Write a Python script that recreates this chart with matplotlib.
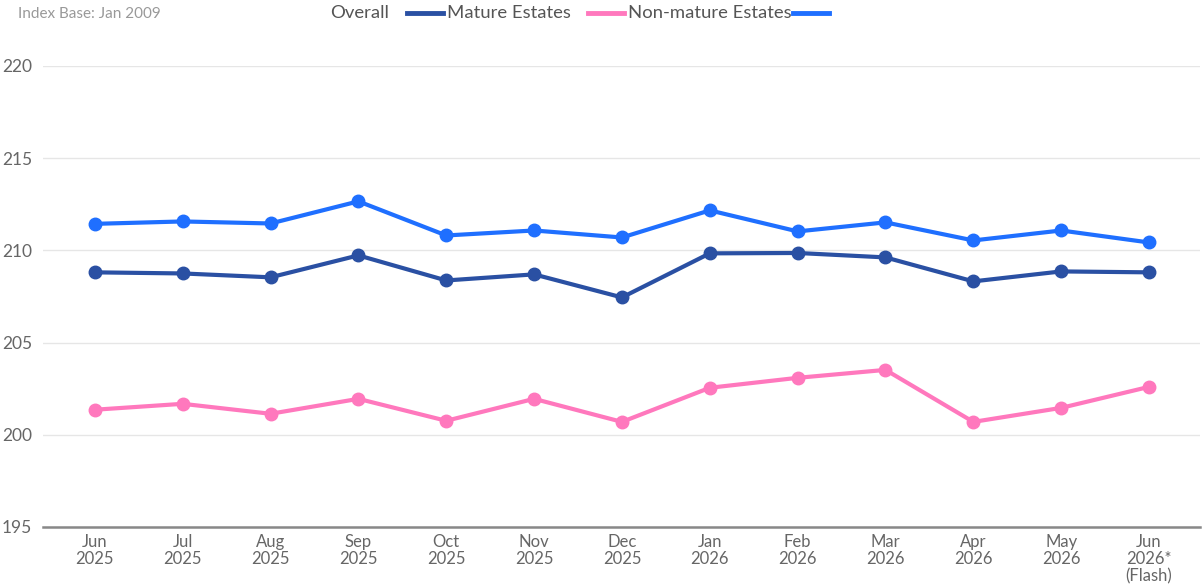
import matplotlib
matplotlib.use("Agg")
import matplotlib.pyplot as plt
from matplotlib.lines import Line2D

# values
months = ["Jun\n2025", "Jul\n2025", "Aug\n2025", "Sep\n2025", "Oct\n2025", "Nov\n2025",
          "Dec\n2025", "Jan\n2026", "Feb\n2026", "Mar\n2026", "Apr\n2026", "May\n2026",
          "Jun\n2026*\n(Flash)"]
overall = [208.81, 208.75, 208.54, 209.73, 208.37, 208.70, 207.45, 209.84, 209.86,
           209.62, 208.32, 208.86, 208.81]
mature = [201.36, 201.68, 201.14, 201.95, 200.76, 201.95, 200.70, 202.55, 203.09,
          203.52, 200.70, 201.46, 202.60]
non_mature = [211.44, 211.57, 211.46, 212.66, 210.81, 211.08, 210.70, 212.17, 211.03,
              211.52, 210.54, 211.08, 210.43]

series = [("Overall", overall, "#2a50a3"),
          ("Mature Estates", mature, "#ff78bd"),
          ("Non-mature Estates", non_mature, "#1f6fff")]

plt.rcParams['font.family'] = ['Lato', 'DejaVu Sans']

fig = plt.figure(figsize=(12.04, 5.87), dpi=100)
ax = fig.add_axes([43 / 1204, 1 - 527 / 587, 1157 / 1204, (527 - 66) / 587])

x = list(range(len(months)))
for name, vals, col in series:
    ax.plot(x, vals, color=col, lw=3, marker="o", ms=9, solid_capstyle="round",
            zorder=3, clip_on=False)

ax.set_ylim(195, 220)
ax.set_xlim(-0.59, 12.58)
ax.set_yticks([195, 200, 205, 210, 215, 220])
ax.set_xticks(x)
ax.set_xticklabels(months, fontsize=12, color="#666666", linespacing=1.1)
ax.tick_params(axis="y", labelsize=12.5, colors="#666666", length=0, pad=8)
ax.tick_params(axis="x", length=0, pad=5)
ax.grid(axis="y", color="#e6e6e6", lw=1)
ax.set_axisbelow(True)
for s in ["top", "right", "left"]:
    ax.spines[s].set_visible(False)
ax.spines["bottom"].set_color("#888888")
ax.spines["bottom"].set_linewidth(1.8)
ax.spines["bottom"].set_zorder(4)

# header texts and legend
fig.text(18 / 1204, 1 - 14 / 587, "Index Base: Jan 2009", fontsize=11, color="#999999",
         va="center", ha="left")
leg_y = 1 - 13 / 587
label_x = [330, 447, 628]
line_x = [(407, 443), (588, 624), (793, 829)]
for (name, vals, col), lx, (x0, x1) in zip(series, label_x, line_x):
    fig.text(lx / 1204, leg_y, name, fontsize=13.3, color="#555555", va="center", ha="left")
    fig.add_artist(Line2D([x0 / 1204, x1 / 1204], [leg_y, leg_y], color=col, lw=3.5,
                          transform=fig.transFigure))

fig.savefig("out.png", dpi=100, facecolor="white")
